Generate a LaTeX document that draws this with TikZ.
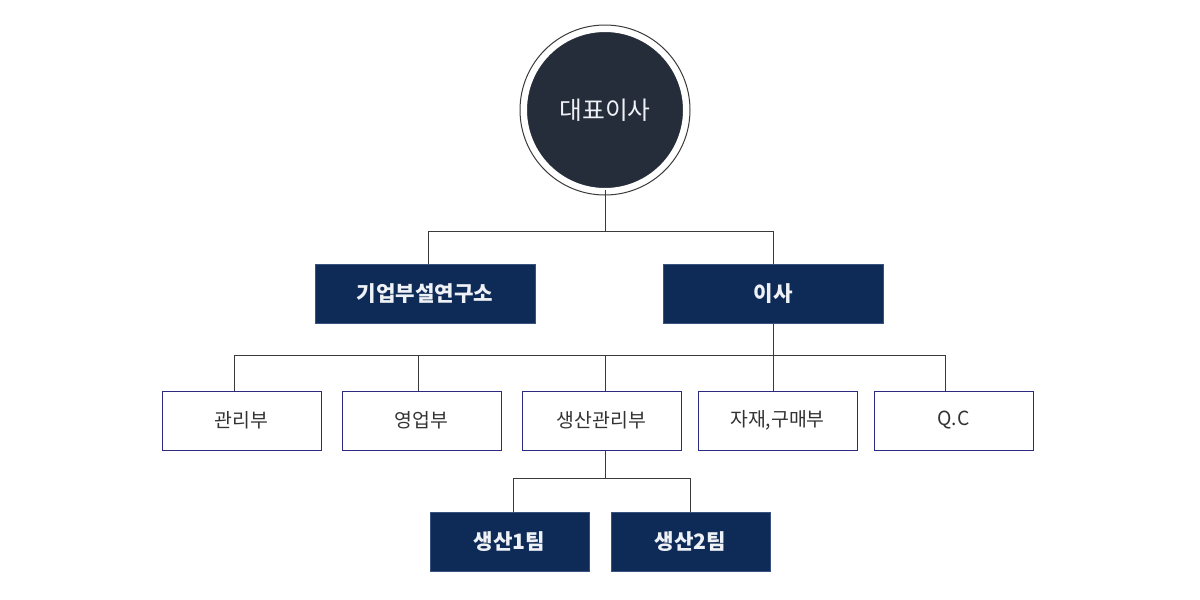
\documentclass[tikz,border=0pt]{standalone}
\usepackage{fontspec}
\setmainfont{Noto Sans CJK KR}
\usepackage{tikz}
\usetikzlibrary{positioning,calc}
\definecolor{navy}{HTML}{0E2A57}
\definecolor{navyline}{HTML}{3A5282}
\definecolor{ceofill}{HTML}{262D3A}
\definecolor{boxline}{HTML}{2B2A80}
\definecolor{wire}{HTML}{3A3A3A}
\definecolor{txt}{HTML}{333333}
\definecolor{paletxt}{HTML}{EEF1F5}
\tikzstyle{line} = [draw,wire,line width=0.5pt]
\tikzstyle{darkbox} = [rectangle,fill=navy,draw=navyline,line width=0.5pt,text=paletxt,font=\fontsize{10.6}{12}\selectfont\bfseries,minimum height=29.5pt,inner sep=0pt]
\tikzstyle{dept} = [rectangle,fill=white,draw=boxline,line width=0.5pt,text=txt,font=\fontsize{9.7}{11}\selectfont,minimum width=79.5pt,minimum height=29.5pt,inner sep=0pt]

\begin{document}
\begin{tikzpicture}[x=0.5pt,y=-0.5pt]
          \useasboundingbox (0,0) rectangle (1200,600);
          % top
          \node[circle,fill=ceofill,draw=white,line width=1pt,minimum size=79pt,text=paletxt,font=\fontsize{12.4}{14}\selectfont] (ceo) at (605,110) {대표이사};
          \draw[wire,line width=0.5pt] (ceo.center) circle (42.5pt);
          % level 1
          \node[darkbox,minimum width=110pt] (lab) at (425,293.5) {기업부설연구소};
          \node[darkbox,minimum width=110pt] (isa) at (773,293.5) {이사};
          \path[line] (ceo.south) -- ++(0,41) -| ([xshift=1.5pt]lab.north);
          \path[line] ($(ceo.south)+(0,41)$) -| (isa.north);
          % level 2
          \node[dept] (gwanri) at (241.5,420.5) {관리부};
          \node[dept] (sales) at (421.5,420.5) {영업부};
          \node[dept] (prod) at (601.5,420.5) {생산관리부};
          \node[dept] (buy) at (777.5,420.5) {자재,구매부};
          \node[dept] (qc) at (953.5,420.5) {Q.C};
          \path[line] ([xshift=-3.75pt]gwanri.north) -- ++(0,-35) -| ([xshift=-4pt]qc.north);
          \path[line] ([xshift=-1.75pt]sales.north) -- ++(0,-35);
          \path[line] ([xshift=1.75pt]prod.north) -- ++(0,-35);
          \path[line] (isa.south) -- (isa.south |- buy.north);
          % level 3
          \node[dept,darkbox] (team1) at (509.5,541.5) {생산1팀};
          \node[dept,darkbox] (team2) at (690.5,541.5) {생산2팀};
          \path[line] ([xshift=1.75pt]prod.south) -- ++(0,28) -| ([xshift=1.75pt]team1.north);
          \path[line] ($([xshift=1.75pt]prod.south)+(0,28)$) -| (team2.north);
        \end{tikzpicture}
\end{document}
